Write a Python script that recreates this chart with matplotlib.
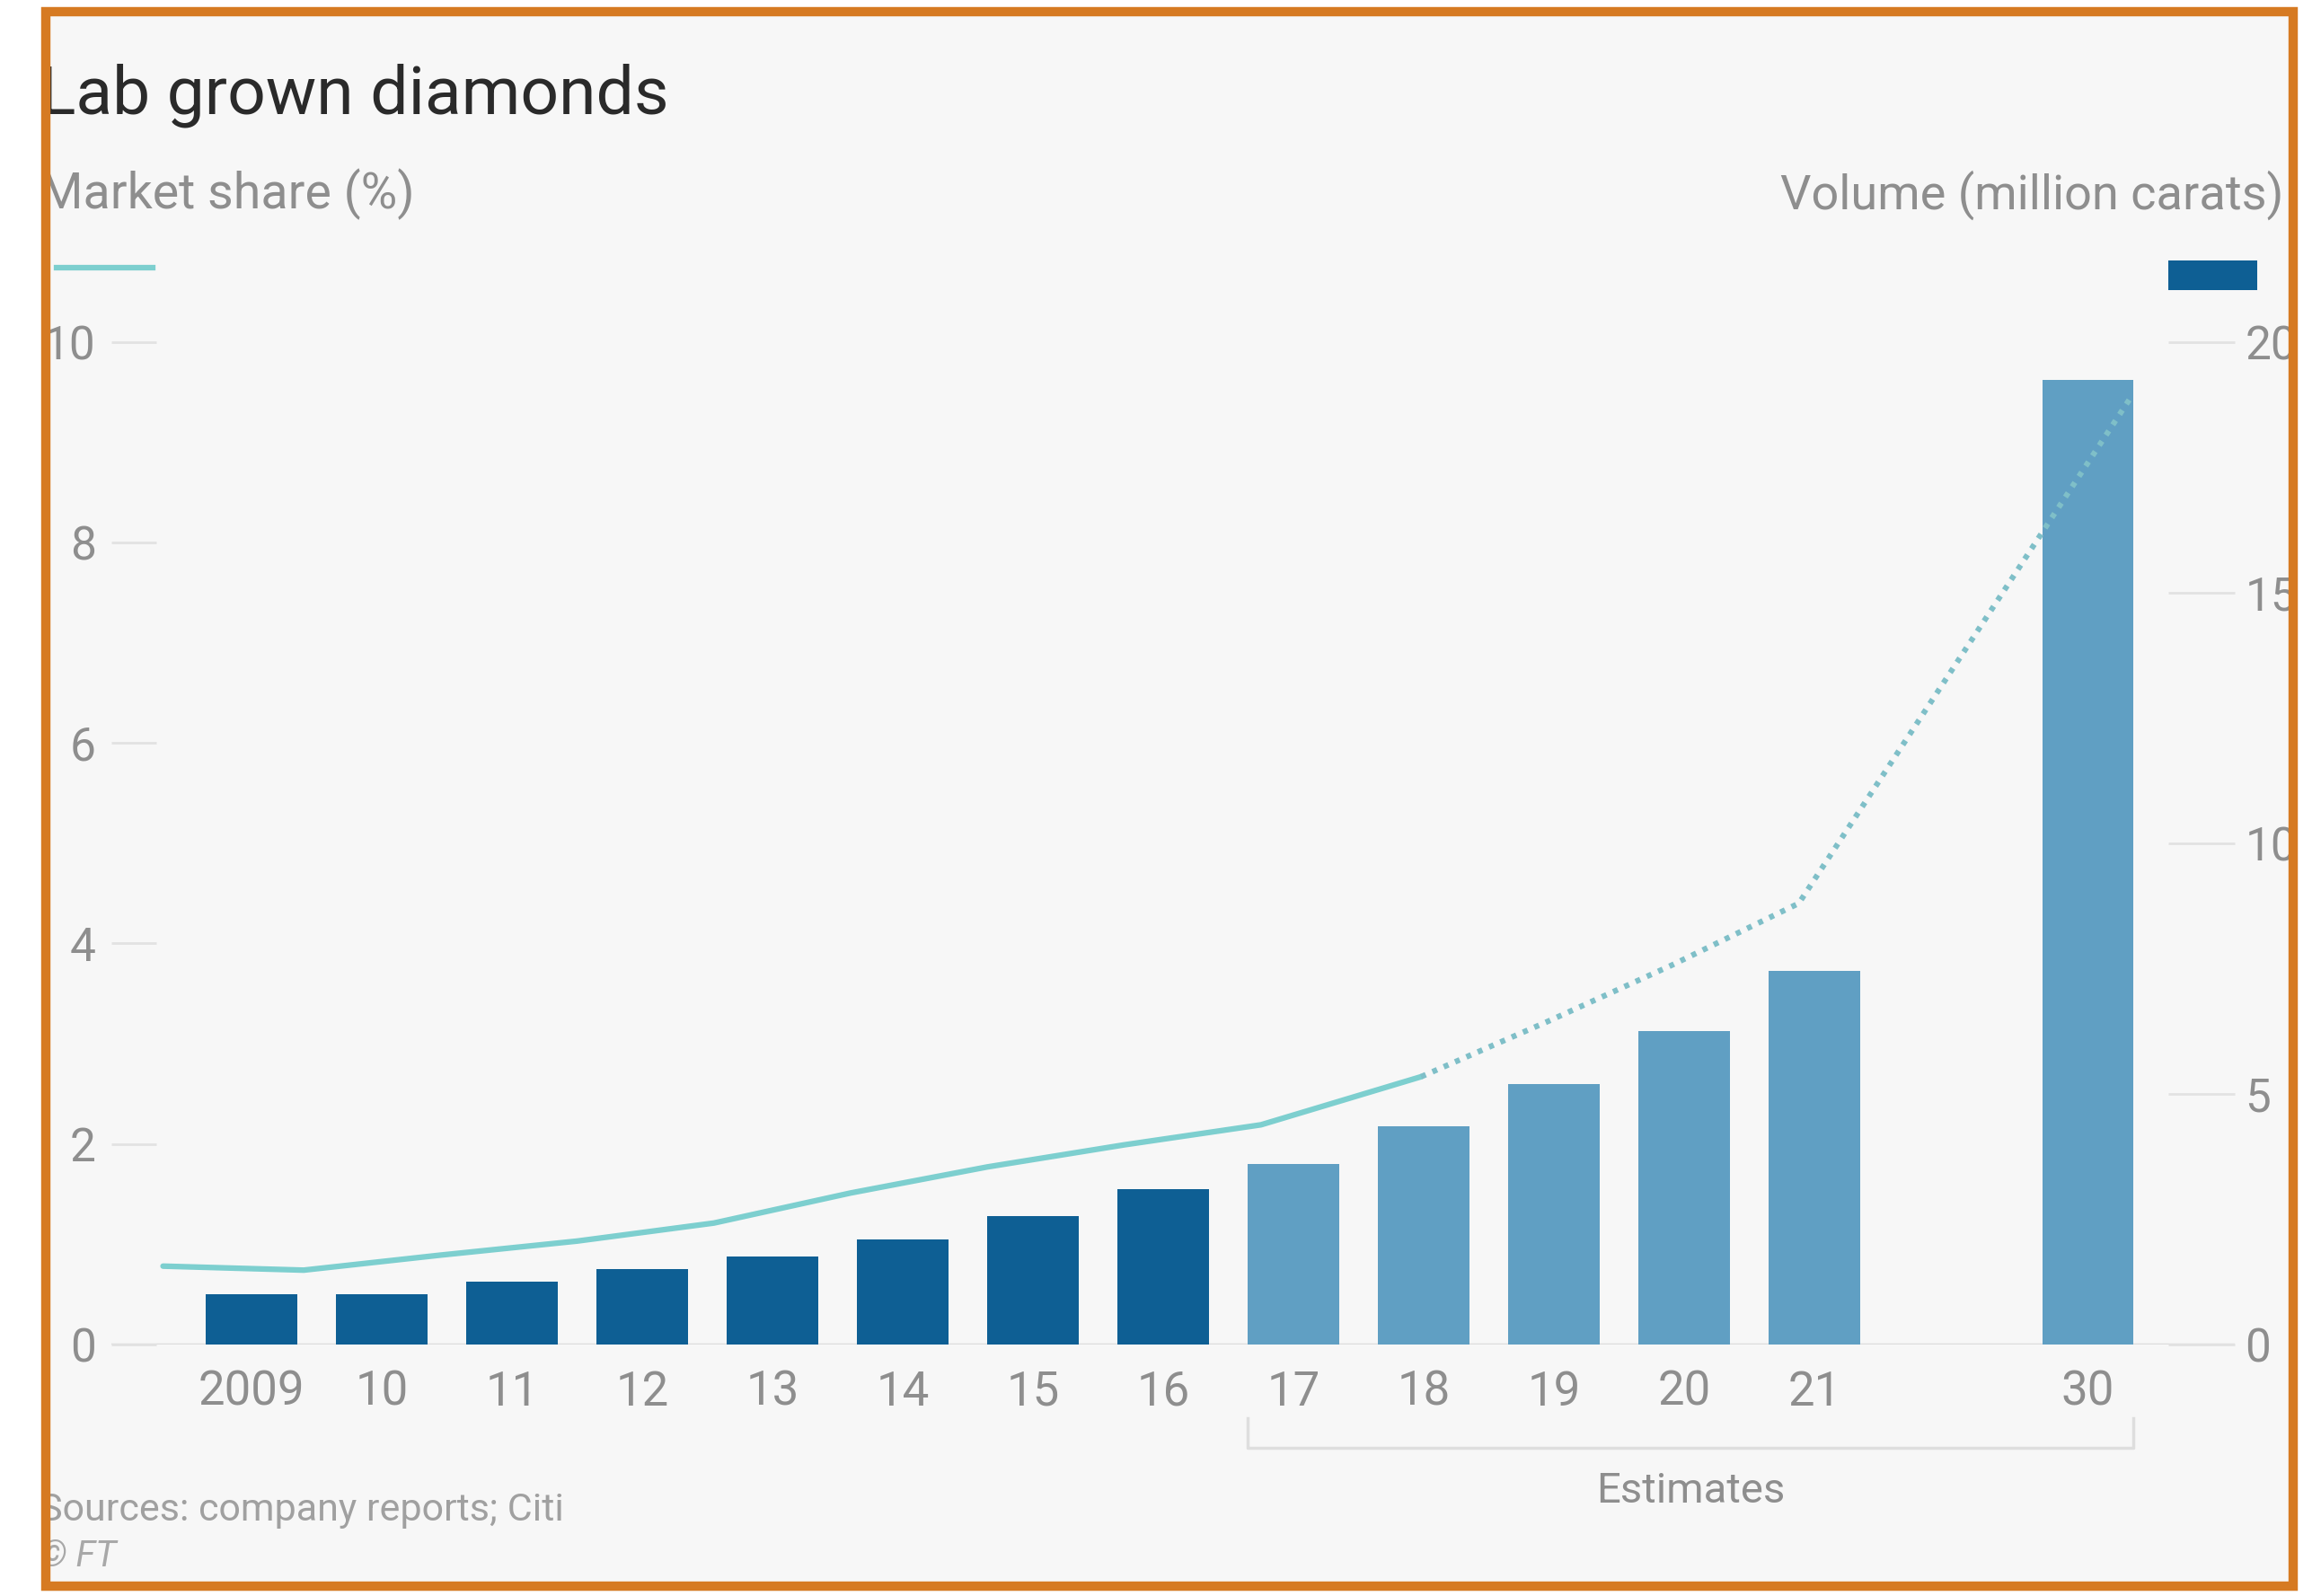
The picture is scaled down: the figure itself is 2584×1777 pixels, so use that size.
import numpy as np
import matplotlib
matplotlib.use("Agg")
import matplotlib.pyplot as plt
from matplotlib.patches import Rectangle
from matplotlib.lines import Line2D
import matplotlib.transforms as mtransforms

plt.rcParams['font.family'] = ['Roboto', 'DejaVu Sans']

# data
years = ["2009", "10", "11", "12", "13", "14", "15", "16", "17", "18", "19", "20", "21", "30"]
volume = [1.0, 1.0, 1.25, 1.5, 1.75, 2.1, 2.55, 3.1, 3.6, 4.35, 5.2, 6.25, 7.45, 19.25]  # million carats
share = [0.78, 0.74, 0.89, 1.03, 1.21, 1.51, 1.77, 1.99, 2.19, 2.67, 3.22, 3.78, 4.40, 9.45]  # %
# where the share line sits along the bar axis (it is not centred on the bars)
share_x = [-0.68, 0.4, 1.45, 2.5, 3.55, 4.6, 5.65, 6.7, 7.75, 8.98, 9.95, 10.9, 11.88, 14.43]
n_actual_bars = 8     # 2009-16 reported, rest estimates
n_actual_line = 10    # line solid up to 2018
share_ticks = [0, 2, 4, 6, 8, 10]
volume_ticks = [0, 5, 10, 15, 20]

DARK = '#0e5f94'
LIGHT = '#609fc3'
TEAL = '#7dcfcf'
GREY = '#8e8e8e'
BG = '#f7f7f7'

fig = plt.figure(figsize=(25.84, 17.77), dpi=100)
fig.patch.set_facecolor('white')

# grey card behind everything
fig.add_artist(Rectangle((0.0179, 0.0028), 0.9719, 0.9926, transform=fig.transFigure,
                         facecolor=BG, edgecolor='none', zorder=-10))

# bar positions: one empty slot between 2021 and 2030
pos = np.array(list(range(len(years) - 1)) + [len(years) + 0.1])
bar_w = 0.7

ax2 = fig.add_axes([0.0478, 0.1577, 0.9152, 0.628])   # volume, right side
ax = ax2.twinx()                                       # share, left side
ax.set_zorder(ax2.get_zorder() + 1)
ax.patch.set_visible(False)
ax2.patch.set_visible(False)

colors = [DARK] * n_actual_bars + [LIGHT] * (len(years) - n_actual_bars)
ax2.bar(pos, volume, width=bar_w, color=colors, zorder=3)

ax.plot(share_x[:n_actual_line], share[:n_actual_line], color=TEAL, lw=4.5,
        solid_capstyle='round', zorder=4)
ax.plot(share_x[n_actual_line - 1:], share[n_actual_line - 1:], color='#7fbfc8', lw=4.5,
        linestyle=(0, (0.9, 1.3)), zorder=4)

ax2.set_xlim(-1.08, 15.23)
ax2.set_ylim(0, 20)
ax.set_ylim(0, 10)

for a in (ax, ax2):
    for s in a.spines.values():
        s.set_visible(False)
ax2.axhline(0, color='#dcdcdc', lw=2.5, zorder=1)

# left axis = share
ax.yaxis.tick_left()
ax.set_yticks(share_ticks)
ax.set_yticklabels([str(t) for t in share_ticks])
ax.tick_params(axis='y', direction='in', length=36, width=2, color='#e2e2e2',
               pad=12, labelsize=37, labelcolor=GREY)
# right axis = volume
ax2.yaxis.tick_right()
ax2.set_yticks(volume_ticks)
ax2.set_yticklabels([str(t) for t in volume_ticks])
ax2.tick_params(axis='y', direction='in', length=53, width=2, color='#e2e2e2',
                pad=8, labelsize=37, labelcolor=GREY)
ax2.set_xticks(pos)
ax2.set_xticklabels(years)
ax2.tick_params(axis='x', length=0, pad=20, labelsize=38, labelcolor=GREY)
ax.tick_params(axis='x', length=0, labelbottom=False)

# "Estimates" bracket under the forecast bars
trans = mtransforms.blended_transform_factory(ax2.transData, ax2.transAxes)
x0 = pos[n_actual_bars] - bar_w / 2
x1 = pos[-1] + bar_w / 2
ax2.add_line(Line2D([x0, x0, x1, x1], [-0.074, -0.103, -0.103, -0.074], transform=trans,
                    color='#dedede', lw=2.5, clip_on=False))
ax2.text((x0 + x1) / 2, -0.146, "Estimates", transform=trans, ha='center', va='center',
         fontsize=34, color=GREY)

# titles and legend keys
fig.text(0.0172, 0.9286, "Lab grown diamonds", fontsize=54, color='#2a2a2a', va='baseline')
fig.text(0.0172, 0.8692, "Market share (%)", fontsize=40, color=GREY, va='baseline')
fig.text(0.984, 0.8692, "Volume (million carats)", fontsize=39, color=GREY, va='baseline',
         ha='right')
fig.add_artist(Line2D([0.0242, 0.0657], [0.8321, 0.8321], transform=fig.transFigure,
                      color=TEAL, lw=4.5))
fig.add_artist(Rectangle((0.9343, 0.8182), 0.0383, 0.0186, transform=fig.transFigure,
                         facecolor=DARK, edgecolor='none'))

fig.text(0.0172, 0.0473, "Sources: company reports; Citi", fontsize=31, color='#a0a0a0',
         va='baseline')
fig.text(0.0172, 0.0186, "© FT", fontsize=29, color='#a8a8a8', va='baseline', style='italic')

# white margin outside the frame and the orange frame on top (crops the edges)
for r in [(0, 0, 0.0179, 1), (0.9898, 0, 0.0102, 1), (0, 0.9954, 1, 0.0046), (0, 0, 1, 0.0028)]:
    fig.add_artist(Rectangle(r[:2], r[2], r[3], transform=fig.transFigure,
                             facecolor='white', edgecolor='none', zorder=20))
fig.add_artist(Rectangle((0.0198, 0.0060), 0.9681, 0.9866, transform=fig.transFigure,
                         facecolor='none', edgecolor='#d67a22', lw=7.5, zorder=21))

fig.savefig("out.png", dpi=100, facecolor=fig.get_facecolor())
